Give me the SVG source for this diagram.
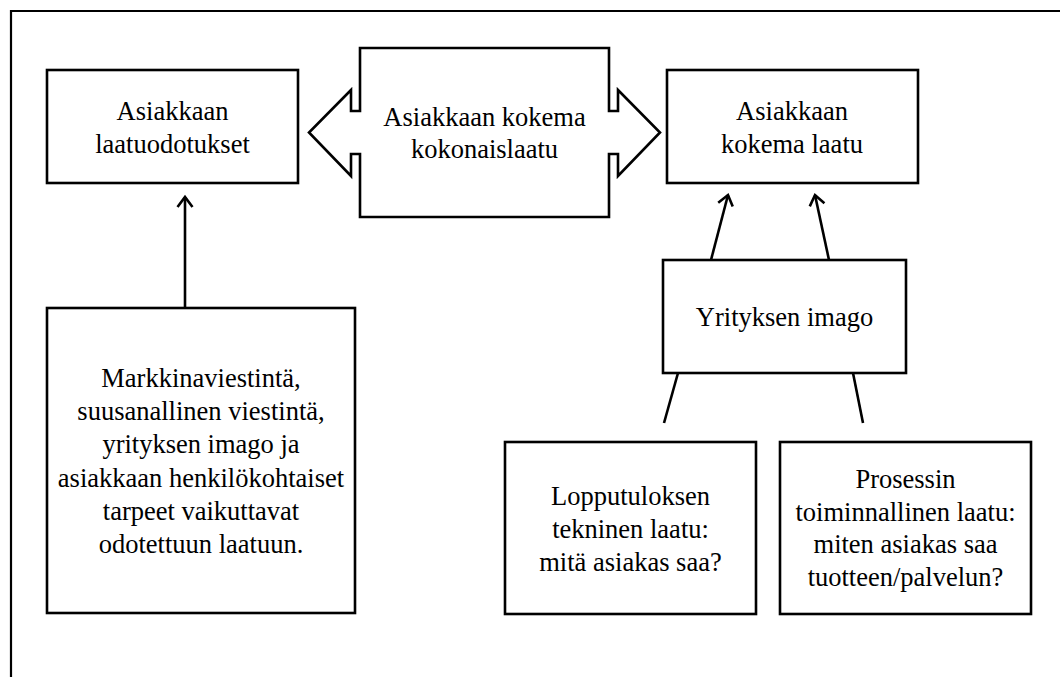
<svg xmlns="http://www.w3.org/2000/svg" width="1060" height="677" viewBox="0 0 1060 677">
<style>
.box{fill:#fff;stroke:#000;stroke-width:2.6}
.t{font-size:26.5px;fill:#000;text-anchor:middle}
.c{stroke:#000;stroke-width:2.6;fill:none}
</style>
<defs>
<marker id="ah" markerUnits="userSpaceOnUse" markerWidth="30" markerHeight="30" viewBox="-15 -15 30 30" refX="0" refY="0" orient="auto" overflow="visible">
<path d="M -10 -7.5 L 0 0 L -10 7.5" fill="none" stroke="#000" stroke-width="2.6" stroke-linejoin="miter"/>
</marker>
</defs>
<rect width="1060" height="677" fill="#fff"/>
<g id="frame">
<path d="M 11 677 L 11 11 L 1060 11" fill="none" stroke="#000" stroke-width="2.2"/>
</g>
<g id="connectors">
<line class="c" x1="185" y1="308" x2="185" y2="197" marker-end="url(#ah)"/>
<line class="c" x1="711" y1="260" x2="728" y2="195" marker-end="url(#ah)"/>
<line class="c" x1="829" y1="260" x2="815" y2="195" marker-end="url(#ah)"/>
<line class="c" x1="678" y1="373" x2="664" y2="423"/>
<line class="c" x1="853" y1="373" x2="863" y2="423"/>
</g>
<g font-family="'Liberation Serif', 'DejaVu Serif', serif">
<g id="node-laatuodotukset">
<rect class="box" x="47" y="70" width="251" height="113"/>
<text class="t" x="172.5" y="120">Asiakkaan</text>
<text class="t" x="172.5" y="153">laatuodotukset</text>
</g>
<g id="node-kokonaislaatu">
<path class="box" d="M 360 48 L 609 48 L 609 111 L 618 111 L 618 90 L 660 132.5 L 618 176 L 618 154 L 609 154 L 609 217 L 360 217 L 360 154 L 351 154 L 351 176 L 309 132.5 L 351 90 L 351 111 L 360 111 Z"/>
<text class="t" x="484.5" y="126">Asiakkaan kokema</text>
<text class="t" x="484.5" y="158">kokonaislaatu</text>
</g>
<g id="node-kokema-laatu">
<rect class="box" x="667" y="70" width="251" height="113"/>
<text class="t" x="792" y="120">Asiakkaan</text>
<text class="t" x="792" y="153">kokema laatu</text>
</g>
<g id="node-imago">
<rect class="box" x="663" y="260" width="243" height="113"/>
<text class="t" x="784.5" y="326">Yrityksen imago</text>
</g>
<g id="node-markkinaviestinta">
<rect class="box" x="47" y="308" width="308" height="305"/>
<text class="t" x="201" y="387">Markkinaviestintä,</text>
<text class="t" x="201" y="420">suusanallinen viestintä,</text>
<text class="t" x="201" y="453">yrityksen imago ja</text>
<text class="t" x="201" y="487">asiakkaan henkilökohtaiset</text>
<text class="t" x="201" y="520">tarpeet vaikuttavat</text>
<text class="t" x="201" y="553">odotettuun laatuun.</text>
</g>
<g id="node-lopputulos">
<rect class="box" x="505" y="442" width="251" height="172"/>
<text class="t" x="630.5" y="505">Lopputuloksen</text>
<text class="t" x="630.5" y="538">tekninen laatu:</text>
<text class="t" x="630.5" y="571">mitä asiakas saa?</text>
</g>
<g id="node-prosessi">
<rect class="box" x="780" y="442" width="251" height="172"/>
<text class="t" x="905.5" y="488">Prosessin</text>
<text class="t" x="905.5" y="521">toiminnallinen laatu:</text>
<text class="t" x="905.5" y="553">miten asiakas saa</text>
<text class="t" x="905.5" y="586">tuotteen/palvelun?</text>
</g>
</g>
</svg>
